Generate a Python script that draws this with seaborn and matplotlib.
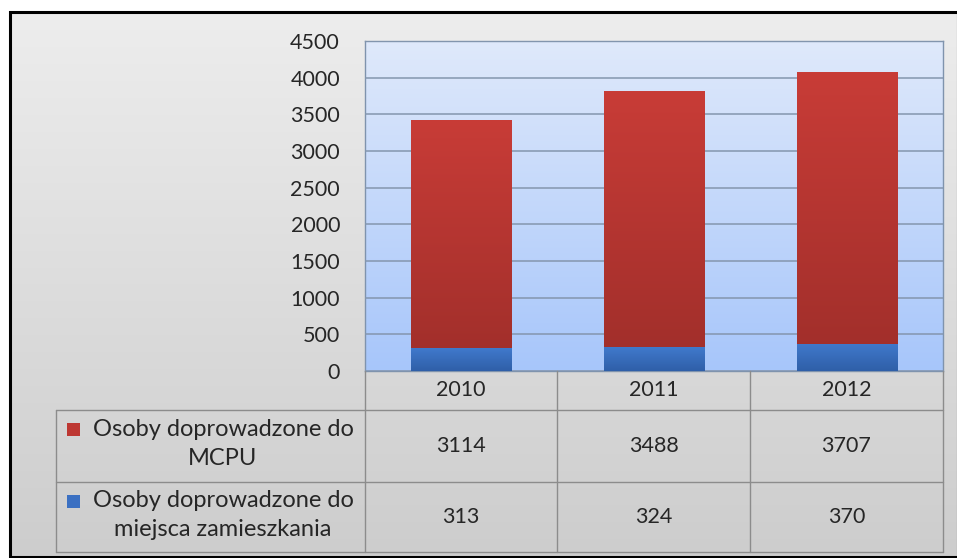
import numpy as np
import pandas as pd
import matplotlib
matplotlib.use('Agg')
import matplotlib.pyplot as plt
import seaborn as sns
from matplotlib.colors import LinearSegmentedColormap
from matplotlib.patches import Rectangle
from matplotlib.lines import Line2D

# ---- dane ----
lata = ['2010', '2011', '2012']
mcpu = [3114, 3488, 3707]
zamieszkanie = [313, 324, 370]
seria_mcpu = 'Osoby doprowadzone do\nMCPU'
seria_zam = 'Osoby doprowadzone do\nmiejsca zamieszkania'
y_ticks = [0, 500, 1000, 1500, 2000, 2500, 3000, 3500, 4000, 4500]

kolor_czerwony = '#bd3732'
kolor_niebieski = '#3b70c2'
kolor_tekstu = '#262626'

df = pd.DataFrame({'rok': lata, 'mcpu': mcpu, 'zam': zamieszkanie})
df['suma'] = df['mcpu'] + df['zam']

W, H = 957, 558
sns.set_theme(style='white')
plt.rcParams['font.family'] = ['Lato', 'DejaVu Sans']
fig = plt.figure(figsize=(W / 100, H / 100), dpi=100)
fig.patch.set_facecolor('white')


def fx(x):
    return x / W


def fy(y):
    return 1 - y / H


# tlo wykresu (szary gradient w ramce)
ax_bg = fig.add_axes([fx(10), fy(557), fx(958) - fx(10), fy(12) - fy(557)], zorder=-5)
szary = LinearSegmentedColormap.from_list('szary', ['#cdcdcd', '#ededed'])
ax_bg.imshow(np.linspace(0, 1, 256).reshape(-1, 1)[::-1], cmap=szary, aspect='auto',
             extent=[0, 1, 0, 1])
ax_bg.set_axis_off()
fig.add_artist(Rectangle((fx(10), fy(557)), fx(958) - fx(10), fy(12) - fy(557),
                         transform=fig.transFigure, fill=False, edgecolor='black', lw=2.2))

# obszar kreslenia
ax = fig.add_axes([fx(365), fy(371), fx(943) - fx(365), fy(41) - fy(371)])
sns.barplot(data=df, x='rok', y='suma', color=kolor_czerwony, width=0.52, saturation=1,
            ax=ax, zorder=3, linewidth=0, edgecolor='none')
n_red = len(ax.patches)
sns.barplot(data=df, x='rok', y='zam', color=kolor_niebieski, width=0.52, saturation=1,
            ax=ax, zorder=4, linewidth=0, edgecolor='none')

# delikatny gradient na slupkach (jak w Excelu)
grad_red = LinearSegmentedColormap.from_list('gr', ['#9f2e2a', '#c83c37'])
grad_blue = LinearSegmentedColormap.from_list('gb', ['#2f5fa8', '#4079cc'])
for i, p in enumerate(ax.patches):
    x0, y0, w, h = p.get_x(), p.get_y(), p.get_width(), p.get_height()
    cm = grad_red if i < n_red else grad_blue
    im = ax.imshow(np.linspace(0, 1, 128).reshape(-1, 1)[::-1], cmap=cm, aspect='auto',
                   extent=[x0, x0 + w, y0, y0 + h], zorder=p.get_zorder() + 0.1)
    im.set_clip_path(p)

niebieski_gr = LinearSegmentedColormap.from_list('nieb', ['#a7c6fa', '#dfe9fb'])
ax.imshow(np.linspace(0, 1, 256).reshape(-1, 1)[::-1], cmap=niebieski_gr, aspect='auto',
          extent=[-0.5, 2.5, 0, 4500], zorder=0)
ax.set_xlim(-0.5, 2.5)
ax.set_ylim(0, 4500)
ax.set_yticks(y_ticks)
ax.yaxis.grid(True, color='#8496ae', lw=1.1, zorder=1)
ax.set_axisbelow(False)
ax.set_xticks([])
ax.set_xlabel('')
ax.set_ylabel('')
ax.tick_params(axis='y', length=0, pad=18, labelsize=15.5, labelcolor=kolor_tekstu)
for s in ax.spines.values():
    s.set_color('#7f93ad')
    s.set_linewidth(1)

# tabela danych
kol = [365, 557, 750, 943]
wiersze = [371, 410, 482, 552]
lewa = 56
kolor_linii = '#8c8c8c'


def linia(x0, y0, x1, y1):
    fig.add_artist(Line2D([fx(x0), fx(x1)], [fy(y0), fy(y1)], transform=fig.transFigure,
                          color=kolor_linii, lw=1))


for y in wiersze[1:]:
    linia(lewa, y, kol[-1], y)
for x in kol:
    linia(x, wiersze[0], x, wiersze[-1])
linia(lewa, wiersze[1], lewa, wiersze[-1])

for i, rok in enumerate(lata):
    cx = (kol[i] + kol[i + 1]) / 2
    fig.text(fx(cx), fy((wiersze[0] + wiersze[1]) / 2), rok, ha='center', va='center',
             fontsize=15.5, color=kolor_tekstu)
    fig.text(fx(cx), fy((wiersze[1] + wiersze[2]) / 2), str(mcpu[i]), ha='center',
             va='center', fontsize=15.5, color=kolor_tekstu)
    fig.text(fx(cx), fy((wiersze[2] + wiersze[3]) / 2), str(zamieszkanie[i]), ha='center',
             va='center', fontsize=15.5, color=kolor_tekstu)

for etykieta, kolor, (g, d) in [(seria_mcpu, kolor_czerwony, (wiersze[1], wiersze[2])),
                                 (seria_zam, kolor_niebieski, (wiersze[2], wiersze[3]))]:
    fig.text(fx(223), fy((g + d) / 2 - 2), etykieta, ha='center', va='center',
             multialignment='center', fontsize=17, color=kolor_tekstu, linespacing=1.45)
    fig.add_artist(Rectangle((fx(67), fy(g + 26)), fx(13), fy(0) - fy(13),
                             transform=fig.transFigure, facecolor=kolor, edgecolor='none'))

fig.savefig('out.png', dpi=100)
